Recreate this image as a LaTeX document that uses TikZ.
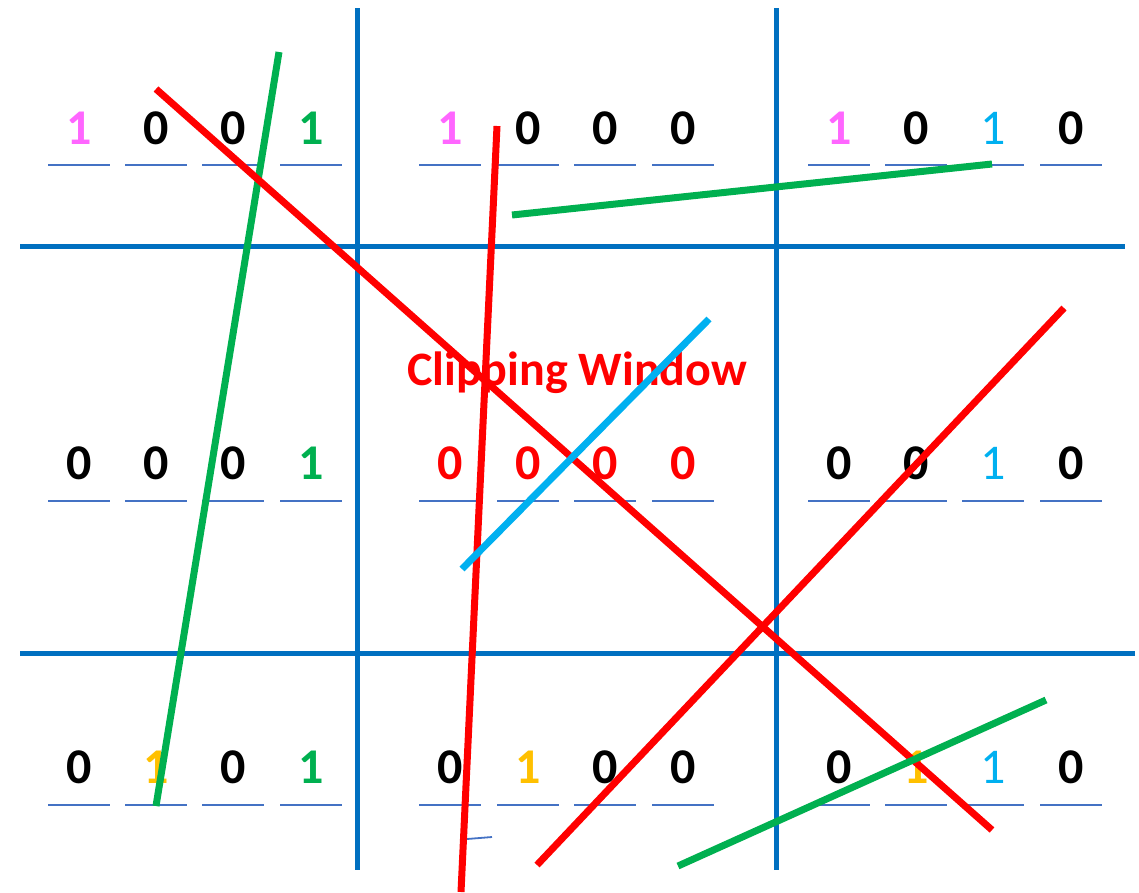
\documentclass[tikz,border=0pt]{standalone}
\usepackage{fontspec}
\setmainfont{Carlito}
\usepackage{xcolor}
\usetikzlibrary{positioning}
\definecolor{gridblue}  {RGB}{  0,112,192}
\definecolor{slotblue}  {RGB}{ 68,114,196}
\definecolor{bitpink}   {RGB}{255,102,255}
\definecolor{bitgreen}  {RGB}{  0,176, 80}
\definecolor{bityellow} {RGB}{255,192,  0}
\definecolor{bitcyan}   {RGB}{  0,176,240}
\definecolor{clipred}   {RGB}{255,  0,  0}

\begin{document}
\begin{tikzpicture}[
  x=1pt, y=-1pt,
  grid/.style={gridblue, line width=5pt},
  slot/.style={slotblue, line width=1.8pt},
  bit/.style={anchor=base, inner sep=0pt,
    font=\fontsize{50}{60}\selectfont\bfseries},
  zero/.style={text=black},
  zerored/.style={text=clipred},
  onepink/.style={text=bitpink},
  onegreen/.style={text=bitgreen},
  oneyellow/.style={text=bityellow},
  onecyan/.style={text=bitcyan, font=\fontsize{50}{60}\selectfont\mdseries},
  seg/.style={line width=7pt}
]
  \useasboundingbox (0,0) rectangle (1139,892);
  % region borders
  \draw[grid] (357,8) -- (357,870);
  \draw[grid] (776,8) -- (776,870);
  \draw[grid] (20,246) -- (1125,246);
  \draw[grid] (20,653) -- (1135,653);
  \draw[slot] (467,839) -- (492,837);
  % title of the window
  \node[bit, text=clipred, font=\fontsize{48}{58}\selectfont\bfseries] (title) at (577,385) {Clipping Window};
  % outcodes, row by row
  \foreach \n/\x/\s/\d in {
      a1/79/onepink/1, a2/156/zero/0, a3/233/zero/0, a4/311/onegreen/1,
      b1/450/onepink/1, b2/528/zero/0, b3/605/zero/0, b4/683/zero/0,
      c1/839/onepink/1, c2/916/zero/0, c3/993/onecyan/1, c4/1071/zero/0}{
    \node[bit, \s] (\n) at (\x,144) {\d};
    \draw[slot] ([xshift=-31pt, yshift=-21pt]\n.base) -- ([xshift=31pt, yshift=-21pt]\n.base);
  }
  \foreach \n/\x/\s/\d in {
      d1/79/zero/0, d2/156/zero/0, d3/233/zero/0, d4/311/onegreen/1,
      e1/450/zerored/0, e2/528/zerored/0, e3/605/zerored/0, e4/683/zerored/0,
      f1/839/zero/0, f2/916/zero/0, f3/993/onecyan/1, f4/1071/zero/0}{
    \node[bit, \s] (\n) at (\x,479) {\d};
    \draw[slot] ([xshift=-31pt, yshift=-22pt]\n.base) -- ([xshift=31pt, yshift=-22pt]\n.base);
  }
  \foreach \n/\x/\s/\d in {
      g1/79/zero/0, g2/156/oneyellow/1, g3/233/zero/0, g4/311/onegreen/1,
      h1/450/zero/0, h2/528/oneyellow/1, h3/605/zero/0, h4/683/zero/0,
      i1/839/zero/0, i2/916/oneyellow/1, i3/993/onecyan/1, i4/1071/zero/0}{
    \node[bit, \s] (\n) at (\x,783) {\d};
    \draw[slot] ([xshift=-31pt, yshift=-22pt]\n.base) -- ([xshift=31pt, yshift=-22pt]\n.base);
  }
  % line segments
  \coordinate (p1) at (279,52);   \coordinate (q1) at (156,806);
  \coordinate (p2) at (156,89);   \coordinate (q2) at (992,830);
  \coordinate (p3) at (497,126);  \coordinate (q3) at (461,892);
  \coordinate (p4) at (512,215);  \coordinate (q4) at (992,164);
  \coordinate (p5) at (709,319);  \coordinate (q5) at (462,569);
  \coordinate (p6) at (1064,308); \coordinate (q6) at (537,865);
  \coordinate (p7) at (1046,700); \coordinate (q7) at (678,866);
  \draw[seg, bitgreen] (p1) -- (q1);
  \draw[seg, clipred] (p2) -- (q2);
  \draw[seg, clipred] (p3) -- (q3);
  \draw[seg, bitgreen] (p4) -- (q4);
  \draw[seg, bitcyan] (p5) -- (q5);
  \draw[seg, clipred] (p6) -- (q6);
  \draw[seg, bitgreen] (p7) -- (q7);
\end{tikzpicture}
\end{document}
